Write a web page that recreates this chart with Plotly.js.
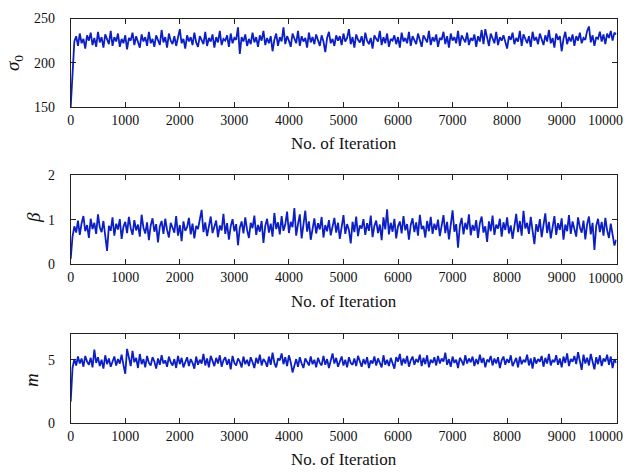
<!DOCTYPE html>
<html>
<head>
<meta charset="utf-8">
<script src="https://cdn.plot.ly/plotly-3.0.1.min.js"></script>
<style>html,body{margin:0;padding:0;background:#fff;}#chart{width:627px;height:472px;}</style>
</head>
<body>
<div id="chart"></div>
<script>
// Thinned MCMC traces (one sample roughly every 33 iterations)
var totalIterations = 10000;
var sigma0 = [
150,192,224,230,219,233,222,227,216,231,225,234,220,228,218,235,223,229,217,232,
226,221,236,219,229,224,233,218,227,222,231,215,228,225,234,220,230,223,217,232,
224,229,219,235,222,227,218,231,226,220,237,223,229,217,233,225,221,230,219,228,
238,222,227,216,231,224,229,220,234,223,218,230,226,221,235,219,228,224,232,217,
229,223,236,220,227,225,231,218,233,222,228,226,240,210,229,224,232,219,227,221,
234,223,229,218,231,225,236,220,228,222,230,213,226,233,219,229,224,240,221,230,
225,218,233,227,222,236,219,230,224,228,217,234,223,229,221,232,226,219,231,224,
212,228,235,222,227,219,231,225,230,220,233,224,228,238,221,229,217,232,226,223,
230,219,234,225,221,228,216,231,227,224,236,220,229,222,233,218,227,225,231,221,
229,217,234,224,228,222,235,219,230,226,221,233,225,218,231,227,223,236,220,229,
224,232,218,228,226,235,221,230,217,233,225,229,222,236,219,231,226,223,234,220,
228,225,232,218,230,224,237,221,238,226,219,233,227,222,235,220,229,225,231,223,
216,230,226,234,221,228,224,236,219,232,227,222,230,218,235,225,229,221,233,226,
220,231,224,237,222,228,217,233,226,230,213,227,235,221,229,224,232,219,230,225,
234,222,228,226,236,241,223,231,219,229,227,235,224,232,221,233,228,236,225,234,
232];
var beta = [
0.12,0.62,0.85,0.71,0.98,0.66,0.92,1.08,0.74,0.88,0.59,1.02,0.79,0.93,0.68,1.12,0.83,0.72,0.97,0.61,
0.30,0.86,0.75,1.05,0.64,0.91,0.78,1.01,0.57,0.84,0.95,0.70,1.06,0.81,0.66,0.99,0.76,0.89,0.62,1.11,
0.82,0.69,0.94,0.54,0.87,1.03,0.73,0.90,0.49,0.85,0.97,0.68,1.02,0.77,0.60,0.93,0.80,0.71,1.08,0.64,
0.88,0.52,0.96,0.75,0.83,1.04,0.67,0.91,0.58,0.86,0.79,1.00,1.22,0.72,0.94,0.63,0.89,1.07,0.70,0.84,
0.98,0.61,0.87,0.76,1.13,0.68,0.92,0.55,0.85,1.01,0.74,0.90,0.43,0.82,0.96,0.69,1.05,0.77,0.59,0.93,
0.81,1.09,0.66,0.88,0.73,0.97,0.48,0.86,1.02,0.71,0.91,0.62,1.15,0.79,0.94,0.67,1.08,0.75,0.89,1.18,
0.70,0.95,0.83,1.26,0.64,0.90,1.12,0.58,0.87,1.20,0.73,0.96,0.55,0.84,1.03,0.69,0.92,0.78,1.06,0.60,
0.88,0.74,0.99,0.65,0.85,1.04,0.71,0.93,0.57,0.82,1.10,0.68,0.90,0.77,0.47,0.95,0.72,1.07,0.63,0.87,
0.80,1.01,0.66,0.92,0.75,1.09,0.61,0.86,0.98,0.70,0.89,0.54,1.05,0.78,1.23,0.67,0.93,0.73,1.02,0.58,
0.85,0.96,0.69,1.08,0.76,0.90,0.55,0.88,1.03,0.72,0.94,0.64,1.11,0.79,0.86,0.60,0.97,0.74,1.06,0.68,
0.91,0.77,1.00,0.63,0.87,1.10,0.70,0.95,0.56,0.83,1.21,0.73,0.90,0.37,0.86,1.04,0.67,0.93,0.78,1.12,
0.65,0.88,0.75,0.99,0.59,0.92,1.07,0.71,0.85,0.50,0.96,0.74,1.09,0.66,0.89,0.80,1.02,0.62,0.94,0.77,
1.05,0.69,0.87,0.57,0.91,1.13,0.72,0.97,0.64,1.20,0.80,0.93,0.68,1.06,0.75,0.45,0.90,0.73,1.01,0.61,
0.88,1.14,0.70,0.95,0.58,0.84,1.08,0.66,0.92,0.77,1.03,0.55,0.89,0.74,1.10,0.68,0.96,0.79,0.62,1.05,
0.83,0.71,0.98,0.56,0.90,1.07,0.67,0.93,0.32,0.86,1.02,0.72,0.95,0.64,1.04,0.76,0.59,0.91,0.69,0.42,
0.55];
var mValues = [
1.70,4.35,5.05,4.55,5.25,4.70,5.10,4.45,5.30,4.85,4.60,5.15,4.40,5.80,4.75,5.20,4.50,5.00,4.30,5.35,
4.65,5.10,4.45,4.90,5.25,4.55,5.05,4.70,5.40,4.60,3.90,5.85,5.20,4.50,5.70,4.80,5.15,4.35,5.45,4.65,
5.05,4.40,5.30,4.75,4.55,5.20,4.85,4.30,5.10,4.60,5.35,4.70,4.95,4.45,5.25,4.80,4.55,5.05,4.35,5.30,
4.65,5.15,4.40,4.90,5.20,4.50,5.05,4.75,4.30,5.25,4.60,5.00,4.70,5.45,4.55,5.10,4.40,5.30,4.85,4.50,
5.15,4.70,5.35,4.45,4.95,5.20,4.60,5.05,4.25,5.30,4.75,4.55,5.10,4.85,4.40,5.25,4.65,5.00,4.50,5.20,
4.80,4.35,5.15,4.70,5.40,4.55,5.05,4.85,4.45,5.25,4.60,5.55,4.75,4.40,5.10,4.95,5.50,4.65,5.20,4.50,
5.35,4.80,4.00,4.60,5.05,4.45,5.20,4.70,4.35,5.10,4.85,4.55,5.25,4.65,5.00,4.40,5.15,4.75,4.55,5.30,
4.60,5.05,4.35,4.90,5.50,4.70,5.15,4.45,4.85,5.25,4.55,5.00,4.40,5.20,4.75,4.60,5.10,4.50,5.30,4.80,
4.45,5.05,4.65,5.20,4.35,4.95,4.70,5.25,4.55,5.10,4.80,4.40,5.35,4.60,5.00,4.50,5.15,4.75,4.30,5.20,
4.85,5.45,4.55,5.10,4.70,5.30,4.45,4.95,5.25,4.60,5.05,4.80,5.40,4.50,5.15,4.65,5.35,4.40,5.00,4.75,
5.20,4.55,5.30,4.70,5.10,4.85,5.55,4.60,5.05,4.45,5.25,4.75,5.00,4.35,5.15,4.90,4.55,5.35,4.70,5.10,
4.80,5.25,4.50,5.05,4.65,5.40,4.75,5.15,4.40,5.00,4.85,5.30,4.55,5.10,4.70,5.20,4.35,4.95,5.25,4.60,
5.05,4.75,5.35,4.50,4.90,5.15,4.40,5.25,4.65,5.00,4.80,5.40,4.55,5.10,4.30,5.20,4.70,5.05,4.85,5.30,
4.45,5.15,4.70,5.45,4.55,5.00,4.80,5.35,4.60,5.10,4.40,5.25,4.75,5.50,4.50,5.05,4.85,5.30,4.65,5.60,
4.90,4.20,5.40,4.70,5.15,4.55,5.45,4.80,4.25,5.20,4.65,5.35,4.50,5.10,4.85,5.40,4.60,5.25,4.35,5.05,
4.75];
var xTickVals = [0,1000,2000,3000,4000,5000,6000,7000,8000,9000,10000];
var xTickText = ['0','1000','2000','3000','4000','5000','6000','7000','8000','9000',''];
var lastTickText = '10000';
var sigmaTicks = [150,200,250];
var betaTicks = [0,1,2];
var mTicks = [0,5];
var xTitle = 'No. of Iteration';
var yTitles = ['<i>σ</i><sub>0</sub>', '<i>β</i>', '<i>m</i>'];

function iterations(n){ var a=[]; for(var i=0;i<n;i++){ a.push(i*totalIterations/(n-1)); } return a; }

var lineColor = '#0b1fc4';
var serif = '"Liberation Serif", "Times New Roman", serif';
var traces = [
  {x: iterations(sigma0.length), y: sigma0, xaxis:'x', yaxis:'y', type:'scatter', mode:'lines', line:{color:lineColor, width:1.8}, hoverinfo:'skip'},
  {x: iterations(beta.length), y: beta, xaxis:'x2', yaxis:'y2', type:'scatter', mode:'lines', line:{color:lineColor, width:1.8}, hoverinfo:'skip'},
  {x: iterations(mValues.length), y: mValues, xaxis:'x3', yaxis:'y3', type:'scatter', mode:'lines', line:{color:lineColor, width:1.8}, hoverinfo:'skip'}
];

var W = 627, H = 472;
var xDom = [70.7/W, 616.5/W];
var boxes = [[18.5,107],[175,264.3],[334.3,423.3]]; // top,bottom px
function yDom(b){ return [1 - b[1]/H, 1 - b[0]/H]; }

function xa(anchor){
  return {domain:xDom, anchor:anchor, range:[0,10005], tickmode:'array', tickvals:xTickVals, ticktext:xTickText,
    ticks:'inside', ticklen:5, tickwidth:1, tickcolor:'#222', showline:true, linecolor:'#222', linewidth:1, mirror:'ticks',
    showgrid:false, zeroline:false, tickfont:{family:serif, size:14, color:'#111'}, ticklabelstandoff:0};
}
function ya(anchor, dom, range, ticks){
  return {domain:dom, anchor:anchor, range:range, tickmode:'array', tickvals:ticks,
    ticks:'inside', ticklen:5, tickwidth:1, tickcolor:'#222', showline:true, linecolor:'#222', linewidth:1, mirror:'ticks',
    showgrid:false, zeroline:false, tickfont:{family:serif, size:14, color:'#111'}, ticklabelstandoff:12};
}

var annotations = [];
var xTitleY = [143, 301, 459];
xTitleY.forEach(function(py){
  annotations.push({text:xTitle, xref:'paper', yref:'paper', x:(xDom[0]+xDom[1])/2, y:1-py/H, xanchor:'center', yanchor:'middle',
    showarrow:false, font:{family:serif, size:17, color:'#111'}});
});
var lastLabelY = [120, 278, 436];
['x','x2','x3'].forEach(function(ax, i){
  annotations.push({text:lastTickText, xref:ax, yref:'paper', x:10000, y:1-lastLabelY[i]/H, xanchor:'right', yanchor:'middle',
    xshift:9, showarrow:false, font:{family:serif, size:14, color:'#111'}});
});
var yTitlePos = [[14,63],[33,218],[31,380]];
yTitlePos.forEach(function(p, i){
  annotations.push({text:yTitles[i], xref:'paper', yref:'paper', x:p[0]/W, y:1-p[1]/H, xanchor:'center', yanchor:'middle',
    textangle:-90, showarrow:false, font:{family:serif, size:19, color:'#111'}});
});

var layout = {
  width:W, height:H, margin:{l:0,r:0,t:0,b:0}, paper_bgcolor:'#fff', plot_bgcolor:'#fff', showlegend:false,
  font:{family:serif},
  xaxis: xa('y'), yaxis: ya('x', yDom(boxes[0]), [150,250], sigmaTicks),
  xaxis2: xa('y2'), yaxis2: ya('x2', yDom(boxes[1]), [0,2], betaTicks),
  xaxis3: xa('y3'), yaxis3: ya('x3', yDom(boxes[2]), [0,7], mTicks),
  annotations: annotations
};
Plotly.newPlot('chart', traces, layout, {displayModeBar:false, staticPlot:true});
</script>
</body>
</html>
